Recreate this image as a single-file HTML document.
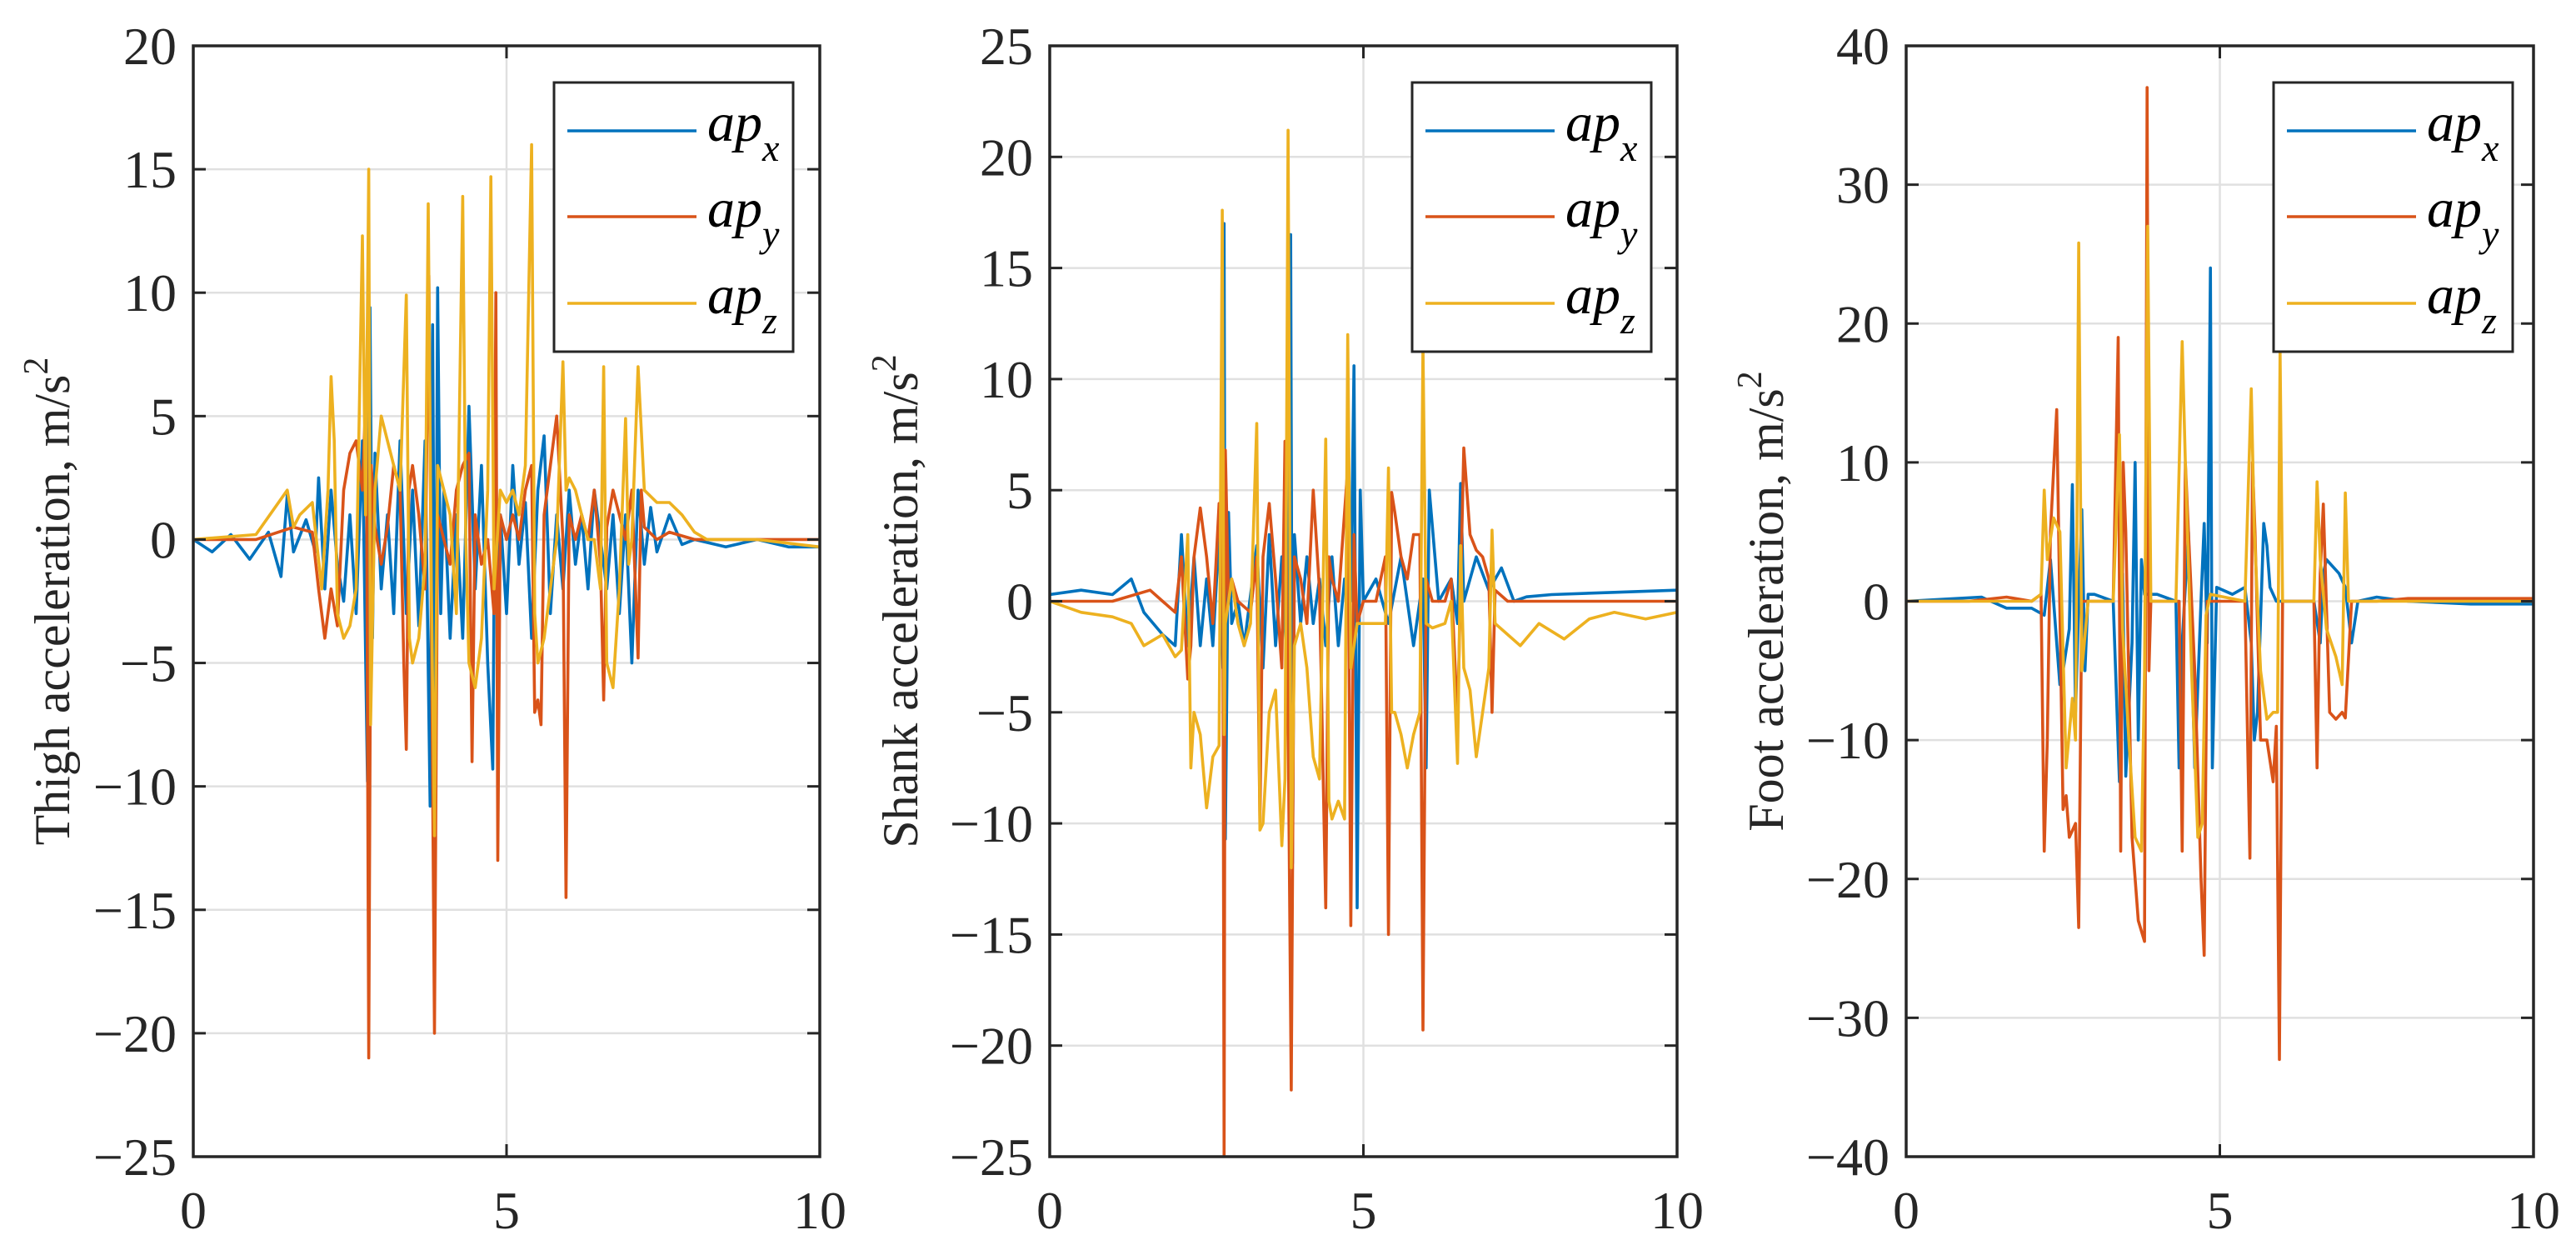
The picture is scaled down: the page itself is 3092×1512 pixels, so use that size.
<!DOCTYPE html>
<html><head><meta charset="utf-8"><style>
html,body{margin:0;padding:0;background:#fff;}
svg{display:block;font-family:"Liberation Serif",serif;}
</style></head><body>
<svg id="fig" width="3092" height="1512" viewBox="0 0 3092 1512" xmlns="http://www.w3.org/2000/svg"></svg>
<script>
// ---- Panel 1: Thigh ----
const t1x=[0,0.3,0.6,0.9,1.2,1.4,1.5,1.6,1.8,1.95,2.0,2.1,2.2,2.3,2.4,2.5,2.6,2.7,2.78,2.82,2.86,2.9,3.0,3.1,3.2,3.3,3.4,3.5,3.6,3.7,3.78,3.82,3.86,3.9,3.95,4.0,4.1,4.2,4.3,4.4,4.5,4.6,4.7,4.78,4.82,4.86,4.9,5.0,5.1,5.2,5.3,5.4,5.5,5.6,5.7,5.8,5.9,6.0,6.1,6.2,6.3,6.4,6.5,6.6,6.7,6.8,6.9,7.0,7.1,7.2,7.3,7.4,7.6,7.8,8.0,8.5,9,9.5,10];
const v1x=[0,-0.5,0.2,-0.8,0.3,-1.5,1.8,-0.5,0.8,-0.5,2.5,-2,2,-1,-2.5,1,-3,4,-9.8,9.4,-4,3.5,-2,1,-3,4,-3,2,-3.5,4,-10.8,8.7,-10.5,10.2,-3,2,-4,1,-4,5.4,-2,3,-5,-9.3,4.5,-2,1,-3,3,-1,1.5,-4,2,4.2,-3,1,-2,2,-1,1,-2,2,0,-2,1,-3,1,-5,2,-1,1.3,-0.5,1,-0.2,0,-0.3,0,-0.3,-0.3];
const t1y=[0,1,1.6,1.9,2.0,2.1,2.2,2.3,2.4,2.5,2.6,2.7,2.76,2.8,2.84,2.9,3.0,3.1,3.2,3.3,3.36,3.4,3.44,3.5,3.6,3.7,3.76,3.8,3.85,3.9,4.0,4.1,4.2,4.3,4.4,4.45,4.5,4.6,4.7,4.8,4.83,4.86,4.9,5.0,5.1,5.2,5.3,5.4,5.45,5.5,5.55,5.6,5.7,5.8,5.9,5.95,6.0,6.1,6.2,6.3,6.4,6.5,6.55,6.6,6.7,6.8,6.9,7.0,7.1,7.15,7.2,7.4,7.6,8,9,10];
const v1y=[0,0,0.5,0.3,-2,-4,-2,-3.5,2,3.5,4,2,6.3,-21,3,0.5,-1,0.5,3,2,-5,-8.5,2,3,1,-2,10.7,-3,-20,1,0,-1,2,3,3.5,-9,1,-1,0,-3,10,-13,1,0,1,0,2,3,-7,-6.5,-7.5,1,3,5,0,-14.5,1,0,1,0,2,-1,-6.5,0.5,2,1,0,2,-4.8,2,0.5,0,0.3,0,0,0];
const t1z=[0,1,1.5,1.6,1.7,1.9,2.05,2.15,2.2,2.25,2.3,2.4,2.5,2.6,2.7,2.75,2.8,2.83,2.9,3.0,3.1,3.2,3.3,3.4,3.45,3.5,3.6,3.7,3.75,3.8,3.85,3.9,4.0,4.1,4.2,4.3,4.35,4.4,4.5,4.6,4.7,4.75,4.8,4.9,5.0,5.1,5.2,5.3,5.4,5.45,5.5,5.6,5.7,5.8,5.9,5.95,6.0,6.1,6.2,6.3,6.4,6.5,6.55,6.6,6.7,6.8,6.9,6.95,7.0,7.1,7.2,7.4,7.6,7.8,8.0,8.2,9,10];
const v1z=[0,0.2,2,0.5,1,1.5,-2,2,6.6,4,-3,-4,-3.5,-2,12.3,1,15,-7.5,2,5,4,3,2,9.9,-4,-5,-4,-1,13.6,-2,-12,3,2,1,-3,13.9,0,-5,-6,-4,2,14.7,-2,2,1.5,2,1,3,16,-3,-5,-4,-2,0,7.2,2,2.5,2,1,0,0,-2,7,-5,-6,-2,4.9,-1,0,7,2,1.5,1.5,1,0.3,0,0,-0.3];
// ---- Panel 2: Shank ----
const t2x=[0,0.5,1,1.3,1.5,1.8,2.0,2.1,2.2,2.3,2.4,2.5,2.6,2.7,2.76,2.78,2.8,2.85,2.9,3.0,3.1,3.3,3.4,3.5,3.6,3.7,3.8,3.84,3.87,3.9,4.0,4.1,4.2,4.3,4.4,4.5,4.6,4.7,4.8,4.85,4.9,4.95,5.0,5.2,5.4,5.6,5.8,5.95,6.0,6.05,6.2,6.4,6.5,6.55,6.6,6.8,7.0,7.2,7.4,7.6,8,9,10];
const v2x=[0.3,0.5,0.3,1,-0.5,-1.5,-2,3,-2,2,-2,1,-2,3,-3,17,-10.7,4,-1,0,-2,2.5,-3,3,-2,2,-4,16.5,-11.8,3,-1,2,-1,1,-2,2,-2,1,0,10.6,-13.8,5,0,1,-1,2,-2,1,-7.5,5,0,1,-1,5.3,0,2,0.5,1.5,0,0.2,0.3,0.4,0.5];
const t2y=[0,1,1.6,2.0,2.1,2.2,2.25,2.3,2.4,2.5,2.6,2.7,2.76,2.78,2.8,2.85,2.9,3.0,3.2,3.3,3.35,3.4,3.5,3.6,3.7,3.75,3.8,3.85,3.9,4.0,4.1,4.2,4.3,4.4,4.45,4.5,4.6,4.7,4.75,4.8,4.85,4.9,5.0,5.2,5.35,5.4,5.45,5.5,5.6,5.7,5.8,5.9,5.95,6.0,6.1,6.3,6.4,6.5,6.6,6.7,6.8,6.9,7.0,7.05,7.1,7.3,8,9,10];
const v2y=[0,0,0.5,-0.5,2,-3.5,-2,2,4.2,2,-1,4.4,2,-25,6.8,0,1,0,-0.5,2,-10,2,4.4,1,-3,7.2,-5,-22,2,1,-1,5,0.5,-13.8,2,1,0,4,6,-14.6,3,-1,0,0,2,-15,4.9,4,2,1,3,3,-19.3,1,0,0,1,-5.4,6.9,3,2.3,2,1,-5,0.5,0,0,0,0];
const t2z=[0,0.5,1,1.3,1.5,1.8,2.0,2.1,2.2,2.25,2.3,2.4,2.5,2.6,2.7,2.75,2.78,2.8,2.9,3.0,3.1,3.2,3.3,3.35,3.4,3.5,3.6,3.7,3.75,3.8,3.85,3.9,4.0,4.1,4.2,4.3,4.4,4.45,4.5,4.6,4.7,4.75,4.8,4.9,5.0,5.2,5.35,5.4,5.45,5.5,5.6,5.7,5.8,5.9,5.95,6.0,6.1,6.3,6.4,6.5,6.55,6.6,6.7,6.8,6.9,7.0,7.05,7.1,7.3,7.5,7.8,8.2,8.6,9,9.5,10];
const v2z=[0,-0.5,-0.7,-1,-2,-1.5,-2.5,-2.2,3,-7.5,-5,-6,-9.3,-7,-6.5,17.6,-6,-1,1,-1,-2,-1,8,-10.3,-10,-5,-4,-11,-8,21.2,-12,-2,-1,-3,-7,-8,7.3,-9,-9.8,-9,-9.8,12,-3,-1,-1,-1,-1,6,-5,-5,-6,-7.5,-6,-5,11.5,-1,-1.2,-1,0,-7.3,2.5,-3,-4,-7,-5,-3,3.2,-1,-1.5,-2,-1,-1.7,-0.8,-0.5,-0.8,-0.5];
// ---- Panel 3: Foot ----
const t3x=[0,1.2,1.6,2.0,2.2,2.3,2.4,2.45,2.5,2.6,2.65,2.7,2.75,2.8,2.85,2.9,3.0,3.3,3.4,3.45,3.5,3.6,3.65,3.7,3.75,3.8,4.0,4.3,4.35,4.4,4.5,4.6,4.7,4.75,4.8,4.85,4.88,4.95,5.2,5.4,5.5,5.55,5.6,5.7,5.75,5.8,5.9,6.0,6.2,6.5,6.6,6.65,6.7,6.9,7.0,7.1,7.2,7.5,8,9,10];
const v3x=[0,0.3,-0.5,-0.5,-1,3,-3,-6,-5,-2,8.4,-8,0,6.6,-5,0.5,0.5,0,-13,2,-12.6,-3,10,-10,3,0.5,0.5,0,-12,-3,5,-12,0,5.6,-3,24,-12,1,0.5,1,-3,-10,-8,5.6,4,1,0,0,0,0,-3,2,3,2,1,-3,0,0.3,0,-0.2,-0.2];
const t3y=[0,1,1.6,2.0,2.15,2.2,2.25,2.3,2.4,2.5,2.55,2.6,2.7,2.75,2.8,2.9,3.3,3.38,3.42,3.46,3.5,3.6,3.7,3.8,3.84,3.87,3.9,4.2,4.35,4.4,4.45,4.5,4.6,4.7,4.75,4.8,4.9,5.4,5.48,5.52,5.56,5.65,5.75,5.85,5.9,5.95,6.0,6.5,6.55,6.6,6.65,6.75,6.85,6.95,7.0,7.1,7.5,8,9,10];
const v3y=[0,0,0.3,0,0.5,-18,-10,5,13.8,-15,-14,-17,-16,-23.5,0,0,0,19,-18,10,5,-17,-23,-24.5,37,-5,0,0,0,-18,10,5,-5,-20,-25.5,0,0,0,-18.5,10,5,-10,-10,-13,-9,-33,0,0,-12,2,7,-8,-8.5,-8,-8.4,0,0,0.2,0.2,0.2];
const t3z=[0,1,2.0,2.15,2.2,2.25,2.35,2.45,2.55,2.65,2.7,2.75,2.8,2.9,3.3,3.4,3.45,3.55,3.65,3.75,3.8,3.85,3.9,4.3,4.4,4.45,4.55,4.65,4.72,4.78,4.85,5.4,5.5,5.55,5.65,5.75,5.85,5.92,5.96,6.0,6.5,6.55,6.6,6.7,6.85,6.95,7.0,7.05,7.5,10];
const v3z=[0,0,0,0.5,8,3,6,5,-12,-7,-10,25.8,-5,0,0,12,-2,-10,-17,-18,-5,27,0,0,18.7,10,-5,-17,-16,-1,0.5,0,15.3,5,-5,-8.5,-8,-8,18,0,0,8.6,3,-2,-4,-6,7.8,0,0,0];
// ticks
const xTicks=[0,5,10];
const yTicks1=[-25,-20,-15,-10,-5,0,5,10,15,20];
const yTicks2=[-25,-20,-15,-10,-5,0,5,10,15,20,25];
const yTicks3=[-40,-30,-20,-10,0,10,20,30,40];
const labels=["Thigh acceleration, m/s","Shank acceleration, m/s","Foot acceleration, m/s"];
const seriesNames=["x","y","z"];

const NS="http://www.w3.org/2000/svg";
const svg=document.getElementById('fig');
const colors=["#0072BD","#D95319","#EDB120"];
function mk(tag,attrs,parent){const e=document.createElementNS(NS,tag);for(const k in attrs)e.setAttribute(k,attrs[k]);(parent||svg).appendChild(e);return e;}

const panels=[
 {L:232,R:984,yt:yTicks1,ymin:-25,ymax:20,lab:labels[0],labX:63,legL:665,data:[[t1x,v1x],[t1y,v1y],[t1z,v1z]],key:'thigh'},
 {L:1260,R:2013,yt:yTicks2,ymin:-25,ymax:25,lab:labels[1],labX:1081,legL:1695,data:[[t2x,v2x],[t2y,v2y],[t2z,v2z]],key:'shank'},
 {L:2288,R:3041,yt:yTicks3,ymin:-40,ymax:40,lab:labels[2],labX:2120,legL:2729,data:[[t3x,v3x],[t3y,v3y],[t3z,v3z]],key:'foot'}
];
const T=55,B=1388;
panels.forEach(p=>{
 const g=mk('g',{});
 
 
 const sx=v=>p.L+(v-0)/(10-0)*(p.R-p.L);
 const sy=v=>B-(v-p.ymin)/(p.ymax-p.ymin)*(B-T);
 p.yt.forEach(v=>{const l=mk('line',{x1:p.L,x2:p.R,y1:sy(v),y2:sy(v),stroke:'#e0e0e0','stroke-width':2.5},g);
  });
 xTicks.forEach(v=>{const l=mk('line',{x1:sx(v),x2:sx(v),y1:T,y2:B,stroke:'#e0e0e0','stroke-width':2.5},g);
  });
 const clip=mk('clipPath',{id:'clip-'+p.key},g);mk('rect',{x:p.L,y:T,width:p.R-p.L,height:B-T},clip);
 p.data.forEach((d,i)=>{
  const pts=d[0].map((t,j)=>sx(t).toFixed(1)+','+sy(d[1][j]).toFixed(1)).join(' ');
  const pl=mk('polyline',{points:pts,fill:'none',stroke:colors[i],'stroke-width':3.6,'stroke-linejoin':'round','clip-path':'url(#clip-'+p.key+')'},g);
  
  
 });
 p.yt.forEach(v=>{
  mk('line',{x1:p.L,x2:p.L+15,y1:sy(v),y2:sy(v),stroke:'#262626','stroke-width':3},g);
  mk('line',{x1:p.R,x2:p.R-15,y1:sy(v),y2:sy(v),stroke:'#262626','stroke-width':3},g);
  const tx=mk('text',{x:p.L-20,y:sy(v)+22,'text-anchor':'end','font-size':64,fill:'#262626'},g);
  tx.textContent=(v<0?'\u2212':'')+Math.abs(v);
  
 });
 xTicks.forEach(v=>{
  mk('line',{x1:sx(v),x2:sx(v),y1:B,y2:B-15,stroke:'#262626','stroke-width':3},g);
  mk('line',{x1:sx(v),x2:sx(v),y1:T,y2:T+15,stroke:'#262626','stroke-width':3},g);
  const tx=mk('text',{x:sx(v),y:1474,'text-anchor':'middle','font-size':64,fill:'#262626'},g);
  tx.textContent=v;
  
 });
 const box=mk('rect',{x:p.L,y:T,width:p.R-p.L,height:B-T,fill:'none',stroke:'#262626','stroke-width':3.5},g);
 
 const yl=mk('text',{x:0,y:0,'text-anchor':'middle','font-size':60,fill:'#262626',transform:'translate('+(p.labX+20)+','+((T+B)/2)+') rotate(-90)'},g);
 yl.textContent=p.lab;
 const sup=mk('tspan',{'font-size':42,dy:-26},yl);sup.textContent='2';
 
 const lg=mk('g',{},g);
 
 mk('rect',{x:p.legL,y:99,width:287,height:323,fill:'#fff',stroke:'#262626','stroke-width':3},lg);
 [157,260,364].forEach((yy,i)=>{
  const e=mk('g',{},lg);
  
  
  mk('line',{x1:p.legL+16,x2:p.legL+171,y1:yy,y2:yy,stroke:colors[i],'stroke-width':3.6},e);
  const t=mk('text',{x:p.legL+184,y:yy+12,'font-size':66,'font-style':'italic',fill:'#000'},e);
  t.textContent='ap';
  const s=mk('tspan',{'font-size':46,dy:24},t);s.textContent=seriesNames[i];
 });
});
</script>
</body></html>
